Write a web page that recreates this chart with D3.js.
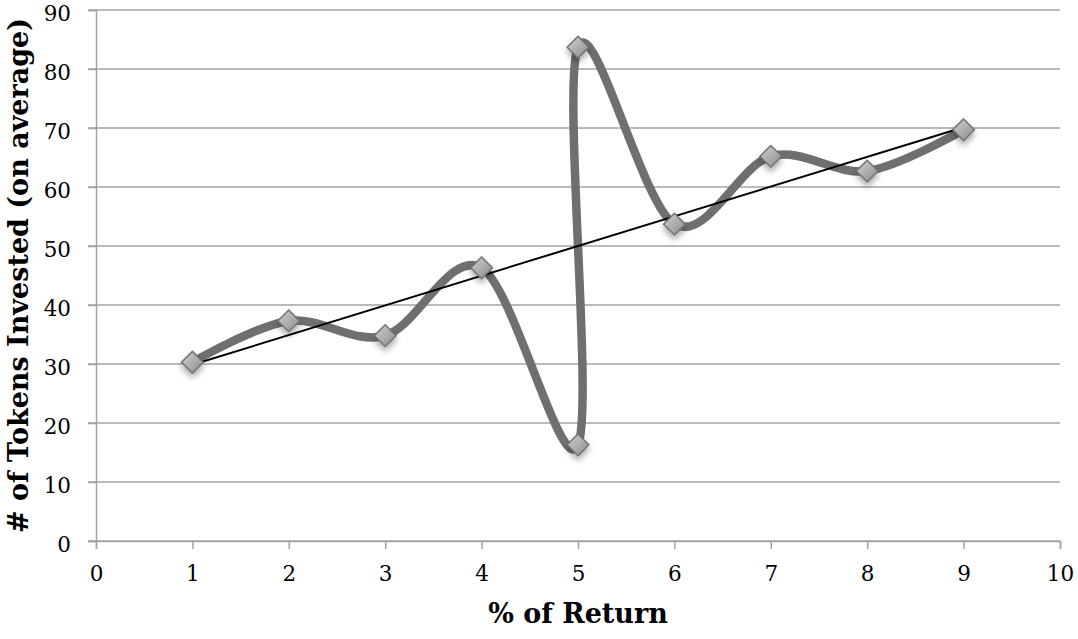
<!DOCTYPE html>
<html>
<head>
<meta charset="utf-8">
<script src="https://cdn.jsdelivr.net/npm/d3@7"></script>
<style>
  body { margin: 0; background: #fff; }
  svg text { font-family: "DejaVu Serif", "Liberation Serif", serif; fill: #000; }
</style>
</head>
<body>
<div id="chart"></div>
<script>
const returns = [1, 2, 3, 4, 5, 5, 6, 7, 8, 9];
const tokens = [30.3, 37.3, 34.8, 46.3, 16.3, 83.7, 53.7, 65.2, 62.7, 69.7];
const xTicks = [0, 1, 2, 3, 4, 5, 6, 7, 8, 9, 10];
const yTicks = [0, 10, 20, 30, 40, 50, 60, 70, 80, 90];

const width = 1078;
const height = 639;
const margin = { top: 10, right: 18, bottom: 98, left: 96 };
const chartWidth = width - margin.left - margin.right;
const chartHeight = height - margin.top - margin.bottom;

const svg = d3.select('#chart')
  .append('svg')
  .attr('width', width)
  .attr('height', height);

const defs = svg.append('defs');
const grad = defs.append('linearGradient')
  .attr('id', 'markerFill')
  .attr('x1', '0%').attr('y1', '0%')
  .attr('x2', '100%').attr('y2', '100%');
grad.append('stop').attr('offset', '0%').attr('stop-color', '#d2d2d2');
grad.append('stop').attr('offset', '100%').attr('stop-color', '#8a8a8a');

const shadow = defs.append('filter')
  .attr('id', 'markerShadow')
  .attr('x', '-50%').attr('y', '-50%')
  .attr('width', '200%').attr('height', '200%');
shadow.append('feDropShadow')
  .attr('dx', 0).attr('dy', 4)
  .attr('stdDeviation', 3)
  .attr('flood-color', '#000')
  .attr('flood-opacity', 0.35);

const chart = svg.append('g')
  .attr('transform', `translate(${margin.left},${margin.top})`);

const xScale = d3.scaleLinear().domain([0, 10]).range([0, chartWidth]);
const yScale = d3.scaleLinear().domain([0, 90]).range([chartHeight, 0]);

// gridlines
chart.append('g')
  .selectAll('line')
  .data(yTicks)
  .join('line')
  .attr('x1', -8)
  .attr('x2', chartWidth)
  .attr('y1', d => yScale(d))
  .attr('y2', d => yScale(d))
  .attr('stroke', '#a3a3a3')
  .attr('stroke-width', 1.5);

// y axis
const yAxis = chart.append('g')
  .call(d3.axisLeft(yScale).tickValues(yTicks).tickSize(8).tickPadding(17));
yAxis.select('.domain').attr('stroke', '#a3a3a3').attr('stroke-width', 1.5);
yAxis.selectAll('.tick line').attr('stroke', '#a3a3a3').attr('stroke-width', 1.5);
yAxis.selectAll('text')
  .attr('font-family', '"DejaVu Serif", serif')
  .style('font-size', '21.5px')
  .attr('fill', '#000')
  .attr('dy', '0.49em');

// x axis
const xAxis = chart.append('g')
  .attr('transform', `translate(0,${chartHeight})`)
  .call(d3.axisBottom(xScale).tickValues(xTicks).tickSize(8).tickPadding(17));
xAxis.select('.domain').attr('stroke', '#a3a3a3').attr('stroke-width', 1.5);
xAxis.selectAll('.tick line').attr('stroke', '#a3a3a3').attr('stroke-width', 1.5);
xAxis.selectAll('text')
  .attr('font-family', '"DejaVu Serif", serif')
  .style('font-size', '21.5px')
  .attr('fill', '#000');

// data series
const points = returns.map((r, i) => ({ x: r, y: tokens[i] }));

const line = d3.line()
  .x(d => xScale(d.x))
  .y(d => yScale(d.y))
  .curve(d3.curveCatmullRom.alpha(0));

chart.append('path')
  .datum(points)
  .attr('d', line)
  .attr('fill', 'none')
  .attr('stroke', '#6f6f6f')
  .attr('stroke-width', 8.5)
  .attr('stroke-linejoin', 'round');

// linear trendline
const meanX = d3.mean(returns);
const meanY = d3.mean(tokens);
const slope = d3.sum(returns, (r, i) => (r - meanX) * (tokens[i] - meanY)) /
  d3.sum(returns, r => (r - meanX) * (r - meanX));
const intercept = meanY - slope * meanX;
const trendX = [d3.min(returns), d3.max(returns)];

chart.append('line')
  .attr('x1', xScale(trendX[0]))
  .attr('y1', yScale(intercept + slope * trendX[0]))
  .attr('x2', xScale(trendX[1]))
  .attr('y2', yScale(intercept + slope * trendX[1]))
  .attr('stroke', '#000')
  .attr('stroke-width', 2);

// markers
const diamond = d3.symbol().type(d3.symbolDiamond2).size(300);
chart.append('g')
  .selectAll('path')
  .data(points)
  .join('path')
  .attr('transform', d => `translate(${xScale(d.x)},${yScale(d.y)})`)
  .attr('d', diamond)
  .attr('fill', 'url(#markerFill)')
  .attr('stroke', '#737373')
  .attr('stroke-width', 1.5)
  .attr('filter', 'url(#markerShadow)');

// axis titles
svg.append('text')
  .attr('x', margin.left + chartWidth / 2)
  .attr('y', 623)
  .attr('text-anchor', 'middle')
  .attr('font-weight', 'bold')
  .style('font-size', '27px')
  .text('% of Return');

svg.append('text')
  .attr('transform', `translate(28,${margin.top + chartHeight / 2}) rotate(-90)`)
  .attr('text-anchor', 'middle')
  .attr('font-weight', 'bold')
  .style('font-size', '27px')
  .text('# of Tokens Invested (on average)');
</script>
</body>
</html>
